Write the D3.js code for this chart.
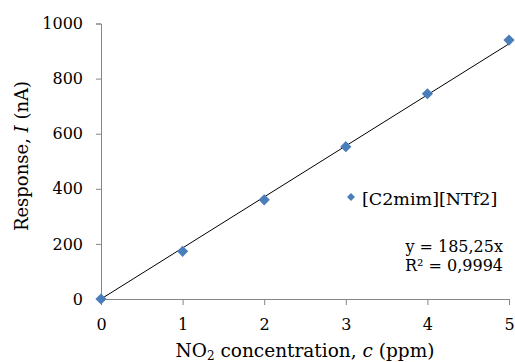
<!DOCTYPE html>
<html><head><meta charset="utf-8">
<script src="https://cdn.jsdelivr.net/npm/d3@7"></script>
<style>body{margin:0;background:#fff}svg{display:block}</style>
</head><body><svg id="c" width="515" height="362"></svg>
<script>
const concentrations = [0, 1, 2, 3, 4, 5];
const responses = [0, 173, 360, 553, 745, 940];
const xTicks = [0, 1, 2, 3, 4, 5];
const yTicks = [0, 200, 400, 600, 800, 1000];
const slope = 185.25;
const seriesName = "[C2mim][NTf2]";
const eqText = "y = 185,25x";
const r2Text = "R² = 0,9994";

const FONT = "'DejaVu Serif', 'Liberation Serif', 'Noto Serif', serif";
const svg = d3.select("#c");
const x = d3.scaleLinear().domain([0, 5]).range([101, 509]);
const y = d3.scaleLinear().domain([0, 1000]).range([299, 23.5]);
const axisColor = "#868686";

const gx = svg.append("g").attr("transform", `translate(0,${y(0)})`)
  .call(d3.axisBottom(x).tickValues(xTicks).tickSize(6).tickPadding(14).tickFormat(d3.format("d")));
const gy = svg.append("g").attr("transform", `translate(${x(0)},0)`)
  .call(d3.axisLeft(y).tickValues(yTicks).tickSize(5).tickPadding(13).tickFormat(d3.format("d")));
[gx, gy].forEach(g => {
  g.attr("font-family", FONT).attr("font-size", 16);
  g.select(".domain").attr("stroke", axisColor).attr("stroke-width", 1);
  g.selectAll(".tick line").attr("stroke", axisColor);
  g.selectAll(".tick text").attr("fill", "#000");
});

// trendline
svg.append("line")
  .attr("x1", x(0)).attr("y1", y(0)).attr("x2", x(5)).attr("y2", y(slope * 5))
  .attr("stroke", "#000").attr("stroke-width", 1);

const diamond = d3.symbol().type(d3.symbolDiamond2).size(80);
svg.append("g").selectAll("path").data(concentrations).join("path")
  .attr("d", diamond)
  .attr("transform", (d, i) => `translate(${x(d)},${y(responses[i])})`)
  .attr("fill", "#4a7ebb");

const T = svg.append("g").attr("font-family", FONT).attr("fill", "#000");
// legend
svg.append("path").attr("d", d3.symbol().type(d3.symbolDiamond2).size(40))
  .attr("transform", "translate(351,197)").attr("fill", "#4a7ebb");
T.append("text").attr("x", 362).attr("y", 205).attr("font-size", 17.5).text(seriesName);

T.append("text").attr("x", 503).attr("y", 252).attr("text-anchor", "end").attr("font-size", 16).text(eqText);
T.append("text").attr("x", 503).attr("y", 271).attr("text-anchor", "end").attr("font-size", 16).text(r2Text);

// axis titles
const yl = T.append("text").attr("transform", "translate(28,156) rotate(-90)").attr("text-anchor", "middle").attr("font-size", 18);
yl.append("tspan").text("Response, ");
yl.append("tspan").attr("font-style", "italic").text("I");
yl.append("tspan").text(" (nA)");

const xl = T.append("text").attr("x", 305).attr("y", 357).attr("text-anchor", "middle").attr("font-size", 18.5);
xl.append("tspan").text("NO");
xl.append("tspan").attr("dy", 3).attr("font-size", 12).text("2");
xl.append("tspan").attr("dy", -3).text(" concentration, ");
xl.append("tspan").attr("font-style", "italic").text("c");
xl.append("tspan").text(" (ppm)");
</script></body></html>
